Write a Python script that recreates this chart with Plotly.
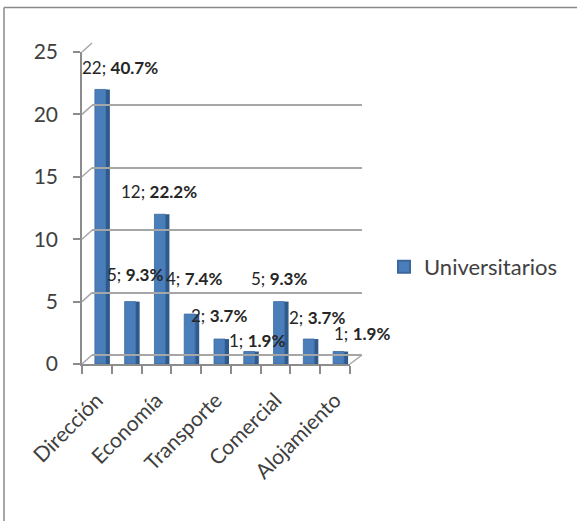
import plotly.graph_objects as go

# ---- data ----
values = [22, 5, 12, 4, 2, 1, 5, 2, 1]
percents = ["40.7%", "9.3%", "22.2%", "7.4%", "3.7%", "1.9%", "9.3%", "3.7%", "1.9%"]
shown_labels = ["Dirección", "Economía", "Transporte", "Comercial", "Alojamiento"]
series_name = "Universitarios"
y_ticks = [0, 5, 10, 15, 20, 25]

# label nudges (pixels) to mimic the Excel 3D label placement
label_dx = [23, 8, 3, 8, 3, 11, 3, 12, 27]
label_dy = [22, 27, 23, 36, 24, 11.5, 23.5, 22, 18.5]

W, H = 577, 521
FONT = "Lato, 'Open Sans', sans-serif"
BLUE = "#4A7EBB"
SIDE = "#2F5A8E"
GRID = "#A6A6A6"
AXIS = "#8C8C8C"
TXT = "#404040"

n = len(values)
xs = list(range(n))
X0, X1 = 82, 350          # front floor edge (px)
Y0, Y1 = 364, 52          # front axis 0 and 25 (px)
DX, DY = 10, 9            # 3D depth offset (px)
cat_px = (X1 - X0) / n
unit_px = (Y0 - Y1) / 25

fig = go.Figure()
# front face of bars
fig.add_trace(go.Bar(
    x=xs, y=values, name=series_name,
    width=11 / cat_px, offset=-2 / cat_px,
    marker=dict(color=BLUE, line=dict(color="#3A679C", width=0.8)),
    hoverinfo="skip", showlegend=True,
))
# darker side face (3D look)
fig.add_trace(go.Bar(
    x=xs, y=values, name=series_name,
    width=4 / cat_px, offset=9 / cat_px,
    marker=dict(color=SIDE, line=dict(width=0)),
    hoverinfo="skip", showlegend=False,
))
# dummy trace for back-wall axes
fig.add_trace(go.Scatter(x=[0], y=[0], xaxis="x2", yaxis="y2", mode="markers",
                         marker=dict(opacity=0), showlegend=False, hoverinfo="skip"))

ydom = [1 - Y0 / H, 1 - Y1 / H]
shift = DY / unit_px

fig.update_layout(
    width=W, height=H,
    margin=dict(l=0, r=0, t=0, b=0, autoexpand=False),
    paper_bgcolor="white", plot_bgcolor="rgba(0,0,0,0)",
    barmode="overlay",
    font=dict(family=FONT, color=TXT, size=18),
    xaxis=dict(
        domain=[X0 / W, X1 / W], range=[-0.5, n - 0.5], automargin=False,
        tickvals=xs[::2], ticktext=shown_labels, tickangle=-45,
        ticks="", showgrid=False, zeroline=False,
        showline=True, linecolor=AXIS, linewidth=1.5,
        tickfont=dict(size=21, color=TXT, family=FONT),
        ticklabelstandoff=14,
        minor=dict(tickvals=[i - 0.5 for i in range(n + 1)], ticks="outside",
                   ticklen=8, tickwidth=1.5, tickcolor=AXIS, showgrid=False),
        anchor="y",
    ),
    yaxis=dict(
        domain=ydom, range=[0, 25], tickvals=y_ticks, automargin=False,
        showgrid=False, zeroline=False,
        showline=True, linecolor=AXIS, linewidth=1.5,
        ticks="outside", ticklen=7, tickwidth=1.5, tickcolor=AXIS,
        tickfont=dict(size=21, color=TXT, family=FONT),
        ticklabelstandoff=11,
        anchor="x",
    ),
    xaxis2=dict(domain=[(X0 + DX) / W, (X1 + 12) / W], range=[0, 1], visible=False,
                automargin=False, showgrid=False, zeroline=False, anchor="y2"),
    yaxis2=dict(domain=ydom, range=[-shift, 25 - shift], tickvals=y_ticks, automargin=False,
                showgrid=True, gridcolor=GRID, gridwidth=2,
                showticklabels=False, ticks="", zeroline=False, showline=False,
                anchor="x2", overlaying="y"),
    legend=dict(x=384 / W, y=1 - 267 / H, xanchor="left", yanchor="middle",
                font=dict(size=22, color=TXT, family=FONT),
                bgcolor="rgba(0,0,0,0)", itemsizing="constant"),
    showlegend=True,
)

for i, (v, p) in enumerate(zip(values, percents)):
    fig.add_annotation(
        x=i, y=v, xref="x", yref="y",
        text=f"{v}; <b>{p}</b>", showarrow=False,
        xshift=label_dx[i], yshift=label_dy[i],
        font=dict(size=17, color="#262626", family=FONT),
    )

# 3D connectors: front axis ticks to back wall, and right floor edge
def py(v):
    return 1 - (Y0 - v * unit_px) / H

for t in y_ticks:
    fig.add_shape(type="line", xref="paper", yref="paper",
                  x0=X0 / W, y0=py(t), x1=(X0 + DX) / W, y1=py(t) + DY / H,
                  line=dict(color=GRID, width=1.5))
fig.add_shape(type="line", xref="paper", yref="paper",
              x0=X1 / W, y0=py(0), x1=(X1 + 12) / W, y1=py(0) + DY / H,
              line=dict(color=GRID, width=1.5))

# outer chart border (only top and left edges visible in the reference)
fig.add_shape(type="line", xref="paper", yref="paper",
              x0=4 / W, x1=1, y0=1 - 7.5 / H, y1=1 - 7.5 / H,
              line=dict(color="#8A8A8A", width=1.5))
fig.add_shape(type="line", xref="paper", yref="paper",
              x0=4 / W, x1=4 / W, y0=0, y1=1 - 7.5 / H,
              line=dict(color="#8A8A8A", width=1.5))

fig.write_html("out.html")
